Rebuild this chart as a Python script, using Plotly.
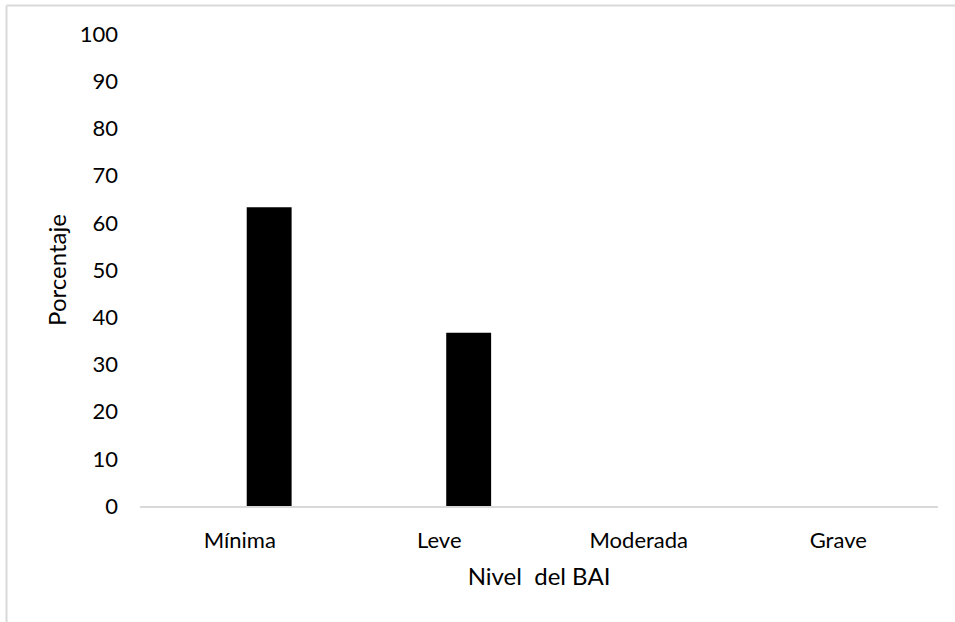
import plotly.graph_objects as go

# Distribution of BAI anxiety levels (percentage of participants)
niveles = ["Mínima", "Leve", "Moderada", "Grave"]
porcentajes = [63.3, 36.7, 0, 0]
y_ticks = [0, 10, 20, 30, 40, 50, 60, 70, 80, 90, 100]

FONT = "Lato, 'Open Sans', sans-serif"

fig = go.Figure(
    go.Bar(
        x=niveles,
        y=porcentajes,
        marker=dict(color="#000000", line=dict(width=0)),
        width=0.225,
        offset=0.035,
        hoverinfo="x+y",
    )
)

fig.update_layout(
    width=955,
    height=622,
    autosize=False,
    margin=dict(l=140, r=17, t=34, b=116),
    paper_bgcolor="#ffffff",
    plot_bgcolor="#ffffff",
    showlegend=False,
    font=dict(family=FONT, color="#000000", size=22),
    xaxis=dict(
        type="category",
        showline=True,
        linecolor="#d9d9d9",
        linewidth=1.5,
        showgrid=False,
        zeroline=False,
        ticks="",
        ticklabelstandoff=14,
        tickfont=dict(family=FONT, size=22, color="#000000"),
        title=dict(text="Nivel\u00a0\u00a0del BAI",
                   font=dict(family=FONT, size=24, color="#000000"),
                   standoff=16),
        fixedrange=True,
    ),
    yaxis=dict(
        range=[0, 100],
        tickvals=y_ticks,
        ticktext=[str(v) for v in y_ticks],
        showline=False,
        showgrid=False,
        zeroline=False,
        ticks="",
        ticklabelstandoff=21,
        tickfont=dict(family=FONT, size=22, color="#000000"),
        title=dict(text="Porcentaje",
                   font=dict(family=FONT, size=24, color="#000000"),
                   standoff=6),
        fixedrange=True,
    ),
)

# chart-area frame: top and left edges
border = dict(color="#d9d9d9", width=2)
fig.add_shape(type="line", xref="paper", yref="paper",
              x0=-0.1673, x1=1.025, y0=1.0604, y1=1.0604, line=border)
fig.add_shape(type="line", xref="paper", yref="paper",
              x0=-0.1673, x1=-0.1673, y0=1.0604, y1=-0.26, line=border)

fig.write_html("out.html")
